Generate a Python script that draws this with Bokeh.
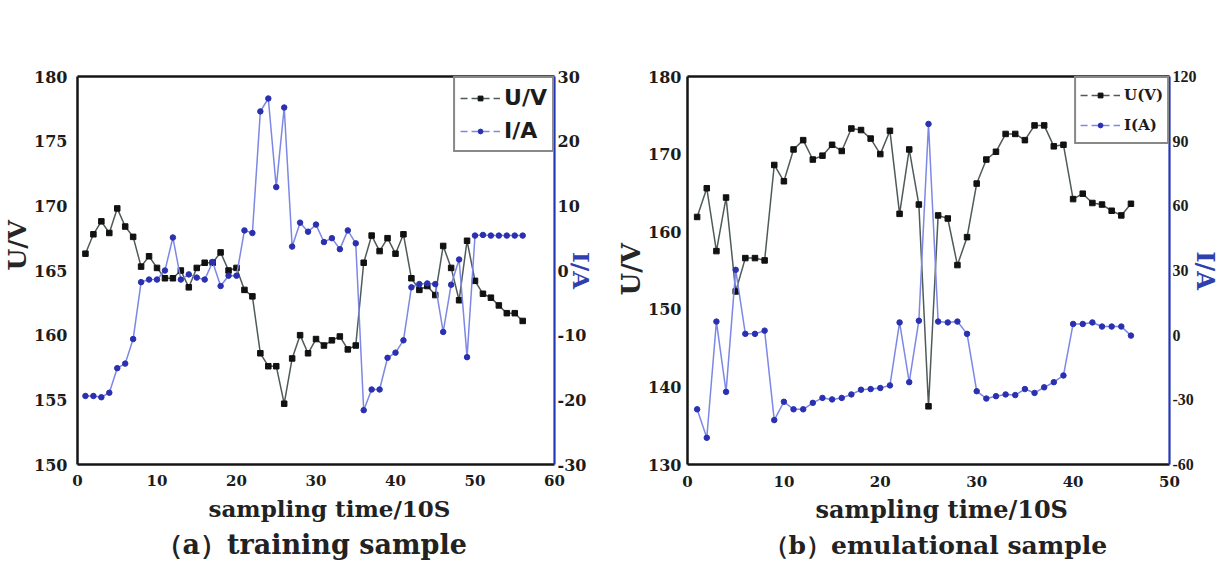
from bokeh.plotting import figure
from bokeh.models import Range1d, LinearAxis, FixedTicker, Legend, LegendItem, Title
from bokeh.layouts import row
from bokeh.embed import file_html
from bokeh.resources import INLINE

# ---------------- data : (a) training sample ----------------
t_a = list(range(1, 57))
u_a = [166.3, 167.8, 168.8, 167.9, 169.8, 168.4, 167.6, 165.3, 166.1, 165.2,
       164.4, 164.4, 165.0, 163.7, 165.2, 165.6, 165.6, 166.4, 165.0, 165.2,
       163.5, 163.0, 158.6, 157.6, 157.6, 154.7, 158.2, 160.0, 158.6, 159.7,
       159.2, 159.6, 159.9, 158.9, 159.2, 165.6, 167.7, 166.5, 167.5, 166.3,
       167.8, 164.4, 163.5, 163.8, 163.1, 166.9, 165.2, 162.7, 167.3, 164.2,
       163.2, 162.9, 162.3, 161.7, 161.7, 161.1]
i_a = [-19.4, -19.4, -19.6, -18.9, -15.1, -14.4, -10.6, -1.8, -1.4, -1.4,
       0.0, 5.1, -1.4, -0.6, -1.1, -1.4, 1.3, -2.4, -0.8, -0.8,
       6.2, 5.8, 24.6, 26.6, 12.9, 25.2, 3.7, 7.4, 6.0, 7.1,
       4.4, 5.0, 3.3, 6.2, 4.2, -21.6, -18.4, -18.4, -13.5, -12.7,
       -10.8, -2.6, -2.1, -2.0, -2.1, -9.5, -2.2, 1.7, -13.4, 5.4,
       5.5, 5.4, 5.4, 5.4, 5.4, 5.4]

# ---------------- data : (b) emulational sample ----------------
t_b = list(range(1, 47))
u_b = [161.9, 165.6, 157.5, 164.4, 152.3, 156.6, 156.6, 156.3, 168.6, 166.5,
       170.6, 171.8, 169.3, 169.8, 171.2, 170.4, 173.3, 173.1, 172.0, 170.0,
       173.0, 162.3, 170.6, 163.5, 137.5, 162.1, 161.7, 155.7, 159.3, 166.2,
       169.3, 170.3, 172.6, 172.6, 171.8, 173.7, 173.7, 171.0, 171.2, 164.2,
       164.9, 163.7, 163.5, 162.7, 162.1, 163.6]
i_b = [-34.4, -47.6, 6.3, -26.3, 30.3, 0.6, 0.6, 2.1, -39.4, -30.9,
       -34.4, -34.4, -31.4, -29.1, -29.8, -29.1, -27.5, -25.3, -25.0, -24.5,
       -23.3, 5.9, -21.8, 6.7, 98.0, 6.3, 5.9, 6.3, 0.6, -26.0,
       -29.4, -28.3, -27.5, -27.8, -25.0, -26.8, -24.2, -21.8, -18.7, 5.2,
       5.2, 5.9, 4.0, 4.0, 4.0, -0.2]

# ---------------- tick labels ----------------
xticks_a = [0, 10, 20, 30, 40, 50, 60]
uticks_a = [150, 155, 160, 165, 170, 175, 180]
iticks_a = [-30, -20, -10, 0, 10, 20, 30]
xticks_b = [0, 10, 20, 30, 40, 50]
uticks_b = [130, 140, 150, 160, 170, 180]
iticks_b = [-60, -30, 0, 30, 60, 90, 120]

SERIF = "DejaVu Serif"
TXT = "#1c1c1c"
BLACK_LINE = "#4f5a5a"
BLACK_MARK = "#111111"
BLUE_LINE = "#7d87e6"
BLUE_MARK = "#2b30b0"
AXIS_BLUE = "#2436b8"
LABEL_BLUE = "#2f3fae"


def style_axis(ax, ticks, size, line_color, lw, standoff, font=SERIF):
    ax.ticker = FixedTicker(ticks=ticks)
    ax.major_label_overrides = {v: str(v) for v in ticks}
    ax.major_tick_line_color = None
    ax.minor_tick_line_color = None
    ax.major_tick_out = 0
    ax.major_tick_in = 0
    ax.minor_tick_out = 0
    ax.minor_tick_in = 0
    ax.axis_line_color = line_color
    ax.axis_line_width = lw
    ax.major_label_text_font = font
    ax.major_label_text_font_size = size
    ax.major_label_text_font_style = "bold"
    ax.major_label_text_color = TXT
    ax.major_label_standoff = standoff


def add_title(p, text, side, size, offset, standoff, color="#222222", font=SERIF):
    p.add_layout(Title(text=text, align="left", offset=offset, standoff=standoff,
                       text_font=font, text_font_size=size, text_font_style="bold",
                       text_color=color), side)


def build(width, height, bl, br, bt, bb, x_end, u_rng, i_rng, xt, ut, it,
          t, u, i, names, cfg):
    p = figure(width=width, height=height, output_backend="svg", toolbar_location=None,
               x_range=Range1d(0, x_end), y_range=Range1d(*u_rng),
               min_border_left=bl, min_border_right=br, min_border_top=bt,
               min_border_bottom=bb, background_fill_color="white",
               border_fill_color="white")
    p.extra_y_ranges = {"i": Range1d(*i_rng)}
    p.grid.visible = False
    p.outline_line_color = None

    style_axis(p.xaxis[0], xt, cfg["xtick_size"], "#151515", 2.5, cfg["xtick_standoff"])
    style_axis(p.yaxis[0], ut, cfg["ytick_size"], "#151515", 2.5, cfg["ytick_standoff"])

    rax = LinearAxis(y_range_name="i")
    style_axis(rax, it, cfg["rtick_size"], AXIS_BLUE, 2.2, 3, font=cfg["rtick_font"])
    rax.axis_label = "I/A"
    rax.axis_label_text_font = SERIF
    rax.axis_label_text_font_size = cfg["il_size"]
    rax.axis_label_text_font_style = "bold"
    rax.axis_label_text_color = LABEL_BLUE
    rax.axis_label_standoff = cfg["il_so"]
    p.add_layout(rax, "right")

    top = LinearAxis(ticker=FixedTicker(ticks=[]), major_tick_out=0, major_tick_in=0,
                     minor_tick_out=0, minor_tick_in=0, major_label_text_font_size="0px",
                     axis_line_color="#151515", axis_line_width=2.5)
    p.add_layout(top, "above")

    p.line(t, u, line_color=BLACK_LINE, line_width=1.5)
    p.scatter(t, u, marker="square", size=5.5, fill_color=BLACK_MARK, line_color=BLACK_MARK)
    p.line(t, i, y_range_name="i", line_color=BLUE_LINE, line_width=1.5)
    p.scatter(t, i, y_range_name="i", marker="circle", size=5.5,
              fill_color=BLUE_MARK, line_color=BLUE_MARK)

    # legend glyphs (dashed line with a marker), placed off-range so only the legend shows them
    off_x = [-20, -19]
    lu = p.line(off_x, [u_rng[0], u_rng[0]], line_color=BLACK_LINE, line_width=1.5, line_dash="7 4")
    su = p.scatter(off_x[:1], [u_rng[0]], marker="square", size=5,
                   fill_color=BLACK_MARK, line_color=BLACK_MARK)
    li = p.line(off_x, [i_rng[0], i_rng[0]], line_color=BLUE_LINE, line_width=1.5,
                line_dash="7 4", y_range_name="i")
    si = p.scatter(off_x[:1], [i_rng[0]], marker="circle", size=5.5, fill_color=BLUE_MARK,
                   line_color=BLUE_MARK, y_range_name="i")
    legend = Legend(items=[LegendItem(label=names[0], renderers=[lu, su]),
                           LegendItem(label=names[1], renderers=[li, si])],
                    location="top_right", margin=0, padding=cfg["leg_pad"],
                    spacing=cfg["leg_spacing"], glyph_width=cfg["leg_glyph_w"],
                    glyph_height=12, label_height=cfg["leg_row_h"],
                    label_standoff=cfg["leg_standoff"],
                    label_text_font=cfg["leg_font"], label_text_font_size=cfg["leg_size"],
                    label_text_font_style=cfg["leg_style"], label_text_color=TXT,
                    border_line_color="#111111", border_line_width=2.4,
                    background_fill_color="white", background_fill_alpha=1.0)
    p.add_layout(legend)

    # axis titles and caption
    add_title(p, "U/V", "left", cfg["ul_size"], cfg["ul_off"], 0, color="#262626")
    add_title(p, "sampling time/10S", "below", cfg["xl_size"], cfg["xl_off"], cfg["xl_so"])
    add_title(p, cfg["caption"], "below", cfg["cap_size"], cfg["cap_off"], cfg["cap_so"])
    return p


cfg_a = dict(xtick_size="15px", xtick_standoff=10, ytick_size="16px", ytick_standoff=10,
             rtick_size="16px", rtick_font=SERIF,
             leg_pad=5, leg_spacing=4, leg_glyph_w=40, leg_row_h=29, leg_standoff=4,
             leg_font="DejaVu Sans", leg_size="22px", leg_style="bold",
             ul_size="25px", ul_off=194, il_size="23px", il_so=-21,
             xl_size="23px", xl_off=131, xl_so=8,
             cap_size="27px", cap_off=78, cap_so=2, caption="（a）training sample")

cfg_b = dict(xtick_size="15px", xtick_standoff=11, ytick_size="16px", ytick_standoff=6,
             rtick_size="16px", rtick_font="Liberation Serif",
             leg_pad=4, leg_spacing=4, leg_glyph_w=40, leg_row_h=26, leg_standoff=4,
             leg_font=SERIF, leg_size="15px", leg_style="bold",
             ul_size="26px", ul_off=169, il_size="24px", il_so=-9,
             xl_size="24px", xl_off=128, xl_so=6,
             cap_size="25px", cap_off=76, cap_so=4, caption="（b）emulational sample")

# plots in a row share the same frame top and bottom
H = 569
TOP = 76
FRAME_H = 388
W1 = 612
W2 = 610
p1 = build(W1, H, 76, W1 - 76 - 478, TOP, H - TOP - FRAME_H, 60, (150, 180), (-30, 30),
           xticks_a, uticks_a, iticks_a, t_a, u_a, i_a, ["U/V", "I/A"], cfg_a)
p2 = build(W2, H, 687 - W1, W2 - (687 - W1) - 482, TOP, H - TOP - FRAME_H, 50, (130, 180), (-60, 120),
           xticks_b, uticks_b, iticks_b, t_b, u_b, i_b, ["U(V)", "I(A)"], cfg_b)

layout = row(p1, p2)
open("out.html", "w").write(file_html(layout, INLINE))
